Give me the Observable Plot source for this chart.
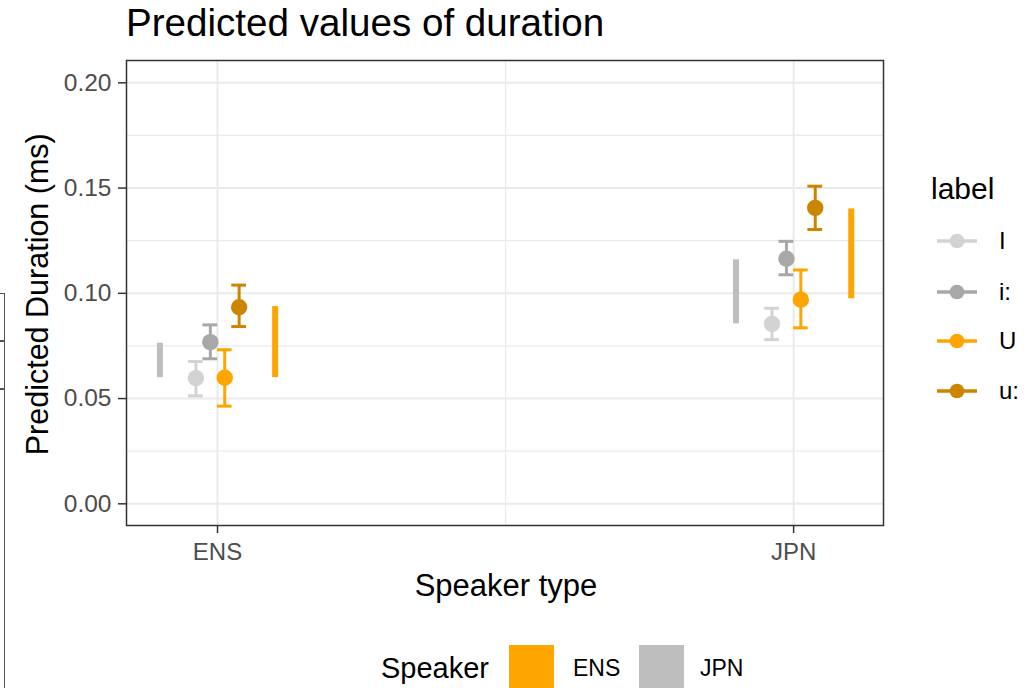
<!DOCTYPE html>
<html><head><meta charset="utf-8">
<script src="https://cdn.jsdelivr.net/npm/d3@7"></script>
<script src="https://cdn.jsdelivr.net/npm/@observablehq/plot@0.6"></script>
<style>
body{margin:0;background:#fff;font-family:"Liberation Sans",Arial,sans-serif;}
#wrap{position:relative;width:1024px;height:688px;overflow:hidden;background:#fff;}
#wrap > svg{position:absolute;left:0;top:0;}
.abs{position:absolute;white-space:nowrap;color:#000;}
</style></head><body><div id="wrap"></div>
<script>
// ---- data ----
const speakers = ["ENS", "JPN"];               // x categories (Speaker type)
const labels = ["I", "i:", "U", "u:"];         // vowel labels
const labelColors = ["#d3d3d3", "#a8a8a8", "#ffa500", "#cd8500"];
const predENS  = [0.0597, 0.0768, 0.0599, 0.0934];
const lowerENS = [0.0513, 0.0689, 0.0464, 0.0842];
const upperENS = [0.0676, 0.0850, 0.0732, 0.1039];
const predJPN  = [0.0855, 0.1164, 0.0970, 0.1406];
const lowerJPN = [0.0780, 0.1088, 0.0836, 0.1303];
const upperJPN = [0.0929, 0.1247, 0.1111, 0.1509];
// range bars ("Speaker" legend)
const rangeGroups = ["ENS", "JPN"];
const rangeColors = ["#ffa500", "#bebebe"];
const rangeLowENS  = [0.0599, 0.0599];   // [ENS group, JPN group] at speaker type ENS
const rangeHighENS = [0.0937, 0.0763];
const rangeLowJPN  = [0.0974, 0.0855];
const rangeHighJPN = [0.1401, 0.1159];
const yTicks = [0, 0.05, 0.10, 0.15, 0.20];
const yMinor = [0.025, 0.075, 0.125, 0.175];

// ---- build tables ----
const dodge = [-0.0375, -0.0125, 0.0125, 0.0375];
const rangeDodge = [0.1, -0.1];
const cap = 0.0128;
const pred = [predENS, predJPN], lower = [lowerENS, lowerJPN], upper = [upperENS, upperJPN];
const points = [];
speakers.forEach((s, si) => labels.forEach((l, li) => points.push({
  speaker: s, label: l, xpos: si + 1 + dodge[li],
  pred: pred[si][li], lo: lower[si][li], hi: upper[si][li]
})));
const rLow = [rangeLowENS, rangeLowJPN], rHigh = [rangeHighENS, rangeHighJPN];
const ranges = [];
speakers.forEach((s, si) => rangeGroups.forEach((g, gi) => ranges.push({
  speaker: s, group: "grp " + g, xpos: si + 1 + rangeDodge[gi], lo: rLow[si][gi], hi: rHigh[si][gi]
})));

const fontFam = '"Liberation Sans", Arial, sans-serif';
const chart = Plot.plot({
  width: 1024, height: 688,
  marginLeft: 126, marginRight: 141, marginTop: 60, marginBottom: 163,
  style: {fontFamily: fontFam, background: "transparent"},
  x: {type: "linear", domain: [0.842, 2.156]},
  y: {domain: [-0.0103, 0.2106]},
  color: {domain: [...labels, ...rangeGroups.map(g => "grp " + g)], range: [...labelColors, ...rangeColors]},
  marks: [
    Plot.gridY(yMinor, {stroke: "#ebebeb", strokeOpacity: 1, strokeWidth: 1.3}),
    Plot.gridX([1.5], {stroke: "#ebebeb", strokeOpacity: 1, strokeWidth: 1.3}),
    Plot.gridY(yTicks, {stroke: "#ebebeb", strokeOpacity: 1, strokeWidth: 2}),
    Plot.gridX([1, 2], {stroke: "#ebebeb", strokeOpacity: 1, strokeWidth: 2}),
    Plot.ruleX(ranges, {x: "xpos", y1: "lo", y2: "hi", stroke: "group", strokeWidth: 6}),
    Plot.ruleX(points, {x: "xpos", y1: "lo", y2: "hi", stroke: "label", strokeWidth: 3}),
    Plot.ruleY(points, {x1: d => d.xpos - cap, x2: d => d.xpos + cap, y: "lo", stroke: "label", strokeWidth: 3}),
    Plot.ruleY(points, {x1: d => d.xpos - cap, x2: d => d.xpos + cap, y: "hi", stroke: "label", strokeWidth: 3}),
    Plot.dot(points, {x: "xpos", y: "pred", fill: "label", r: 8.2}),
    Plot.frame({stroke: "#333333", strokeWidth: 1.5}),
    Plot.axisY({ticks: yTicks, tickFormat: d3.format(".2f"), tickSize: 8, tickPadding: 7,
      fontSize: 24.5, stroke: "#333333", strokeWidth: 1.5, fill: "#4d4d4d", label: null}),
    Plot.axisX({ticks: [1, 2], tickFormat: d => speakers[d - 1], tickSize: 8, tickPadding: 9,
      fontSize: 24, stroke: "#333333", strokeWidth: 1.5, fill: "#4d4d4d", label: null})
  ]
});
const wrap = document.getElementById("wrap");
wrap.appendChild(chart);

function addText(txt, left, centerY, size, extra) {
  const d = document.createElement("div");
  d.className = "abs";
  d.textContent = txt;
  d.style.left = left + "px";
  d.style.top = (centerY - size / 2) + "px";
  d.style.fontSize = size + "px";
  d.style.lineHeight = size + "px";
  if (extra) Object.assign(d.style, extra);
  wrap.appendChild(d);
  return d;
}
// title
addText("Predicted values of duration", 126, 23.5, 38.6);
// axis titles
addText("Speaker type", 506, 585, 31, {transform: "translateX(-50%)"});
addText("Predicted Duration (ms)", 37, 294, 30.5, {transform: "translate(-50%,0) rotate(-90deg)", transformOrigin: "50% 50%"});
// right legend: label
addText("label", 931, 189, 30);
const keyY = [241, 292, 341, 391];
labels.forEach((l, i) => {
  const ns = "http://www.w3.org/2000/svg";
  const s = document.createElementNS(ns, "svg");
  s.setAttribute("width", 42); s.setAttribute("height", 20);
  s.style.position = "absolute"; s.style.left = "936px"; s.style.top = (keyY[i] - 10) + "px";
  const ln = document.createElementNS(ns, "line");
  ln.setAttribute("x1", 1); ln.setAttribute("x2", 41); ln.setAttribute("y1", 10); ln.setAttribute("y2", 10);
  ln.setAttribute("stroke", labelColors[i]); ln.setAttribute("stroke-width", 3.5);
  const c = document.createElementNS(ns, "circle");
  c.setAttribute("cx", 21); c.setAttribute("cy", 10); c.setAttribute("r", 7.3); c.setAttribute("fill", labelColors[i]);
  s.appendChild(ln); s.appendChild(c);
  wrap.appendChild(s);
  addText(l, 999, keyY[i], 24);
});
// bottom legend: Speaker
addText("Speaker", 381, 668, 29);
const swLeft = [509, 639], txtLeft = [573, 700];
rangeGroups.forEach((g, i) => {
  const sq = document.createElement("div");
  Object.assign(sq.style, {position: "absolute", left: swLeft[i] + "px", top: "645px", width: "45px", height: "44px", background: rangeColors[i]});
  wrap.appendChild(sq);
  addText(g, txtLeft[i], 668, 23);
});
// leftover frame fragment at the left edge of the reference
const frag = document.createElement("div");
Object.assign(frag.style, {position: "absolute", left: "-2px", top: "293px", width: "6px", height: "400px",
  borderTop: "1.5px solid #555", borderRight: "1.5px solid #555"});
wrap.appendChild(frag);
[340, 388].forEach(y => {
  const h = document.createElement("div");
  Object.assign(h.style, {position: "absolute", left: "0px", top: y + "px", width: "5px", height: "1.5px", background: "#555"});
  wrap.appendChild(h);
});
</script></body></html>
